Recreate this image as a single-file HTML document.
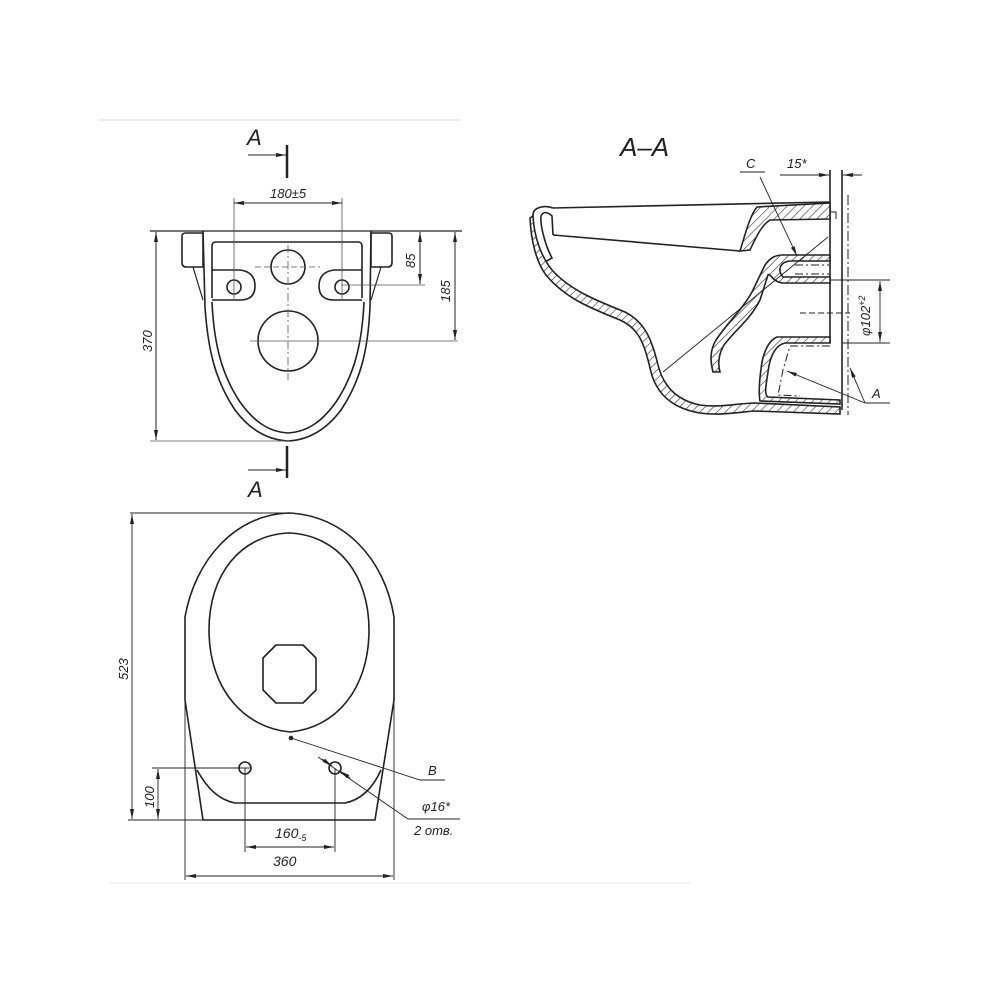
<!DOCTYPE html>
<html><head><meta charset="utf-8"><style>
html,body{margin:0;padding:0;background:#fff}
svg{display:block}
text{font-family:"Liberation Sans",sans-serif;font-style:italic;fill:#222}
</style></head><body>
<svg width="1000" height="1000" viewBox="0 0 1000 1000" xmlns="http://www.w3.org/2000/svg">
<defs>
<pattern id="h" width="6" height="6" patternUnits="userSpaceOnUse" patternTransform="rotate(45)">
<rect width="6" height="6" fill="#fff"/><line x1="0" y1="0" x2="0" y2="6" stroke="#333" stroke-width="1.2"/>
</pattern>
<marker id="ar" markerWidth="10" markerHeight="6" refX="10" refY="3" orient="auto-start-reverse" markerUnits="userSpaceOnUse">
<path d="M0,1 L10,3 L0,5 Z" fill="#222"/></marker>
</defs>
<g stroke="#222" fill="none" stroke-width="1.6">
<!-- faint border lines -->
<line x1="98" y1="120" x2="460" y2="120" stroke="#ddd" stroke-width="1"/>
<line x1="110" y1="883" x2="690" y2="883" stroke="#e4e4e4" stroke-width="1"/>

<!-- FRONT VIEW -->
<path d="M182,236 Q182,233 186,233 L203,233 L203,267 L186,267 Q182,267 182,262 Z"/>
<path d="M392,236 Q392,233 388,233 L371,233 L371,267 L388,267 Q392,267 392,262 Z"/>
<line x1="193" y1="267" x2="203" y2="300" stroke-width="1.2"/>
<line x1="381" y1="267" x2="371" y2="300" stroke-width="1.2"/>
<line x1="150" y1="231" x2="462" y2="231" stroke-width="1.2"/>
<path d="M203,231 L205,307 C208,350 215,380 235,410 C250,430 268,440 288,441 C308,440 326,430 341,410 C361,380 368,350 370,307 L371,231"/>
<path d="M212,302 C214,345 222,375 240,402 C255,423 270,432 288,433 C306,432 321,423 336,402 C354,375 362,345 364,302"/>
<path d="M212,298 L212,246 Q212,242 216,242 L358,242 Q362,242 362,246 L362,298"/>
<path d="M212,270 L240,270 Q255,272 255,286 Q255,300 240,300 L212,300"/>
<path d="M362,270 L334,270 Q319,272 319,286 Q319,300 334,300 L362,300"/>
<circle cx="234" cy="287" r="7"/><circle cx="342" cy="287" r="7"/>
<circle cx="288" cy="267" r="17"/><circle cx="288" cy="341" r="30"/>
<g stroke-width="0.8" stroke="#555">
<line x1="288" y1="245" x2="288" y2="380" stroke-dasharray="8,3,2,3"/>
<line x1="255" y1="267" x2="320" y2="267" stroke-dasharray="6,3"/>
<line x1="250" y1="341" x2="458" y2="341"/>
<line x1="234" y1="198" x2="234" y2="300"/><line x1="342" y1="198" x2="342" y2="300"/>
<line x1="342" y1="285" x2="425" y2="285"/>
<line x1="150" y1="441" x2="290" y2="441"/>
</g>
<g stroke-width="1">
<line x1="234" y1="203" x2="342" y2="203" marker-start="url(#ar)" marker-end="url(#ar)"/>
<line x1="156" y1="232" x2="156" y2="440" marker-start="url(#ar)" marker-end="url(#ar)"/>
<line x1="420" y1="232" x2="420" y2="284" marker-start="url(#ar)" marker-end="url(#ar)"/>
<line x1="455" y1="232" x2="455" y2="340" marker-start="url(#ar)" marker-end="url(#ar)"/>
</g>
<line x1="287" y1="145" x2="287" y2="178" stroke-width="2.5"/>
<line x1="287" y1="446" x2="287" y2="478" stroke-width="2.5"/>
<line x1="248" y1="155" x2="286" y2="155" stroke-width="1" marker-end="url(#ar)"/>
<line x1="248" y1="470" x2="286" y2="470" stroke-width="1" marker-end="url(#ar)"/>

<!-- TOP VIEW -->
<path d="M203,820 L185,700 L185,617 C195,560 235,515 288,513 C345,515 385,560 394,617 L394,700 L375,820 Z"/>
<path d="M289,533 C240,535 209,575 209,630 C209,690 245,728 290,732 C335,728 369,690 369,630 C369,575 338,535 289,533 Z"/>
<path d="M276,645 L303,645 L316,658 L316,690 L303,703 L276,703 L263,690 L263,658 Z" stroke-linejoin="round"/>
<path d="M197,770 C208,790 220,800 235,803 L345,803 C360,800 372,790 381,770"/>
<circle cx="245" cy="768" r="6"/><circle cx="335" cy="768" r="6"/>
<circle cx="291" cy="738" r="1.5" fill="#222"/>
<g stroke-width="0.9">
<line x1="130" y1="513" x2="290" y2="513"/>
<line x1="128" y1="820" x2="205" y2="820"/>
<line x1="152" y1="768" x2="250" y2="768"/>
<line x1="245" y1="768" x2="245" y2="852"/><line x1="335" y1="768" x2="335" y2="852"/>
<line x1="185" y1="700" x2="185" y2="880"/><line x1="394" y1="700" x2="394" y2="880"/>
<line x1="132" y1="514" x2="132" y2="819" marker-start="url(#ar)" marker-end="url(#ar)"/>
<line x1="158" y1="769" x2="158" y2="819" marker-start="url(#ar)" marker-end="url(#ar)"/>
<line x1="246" y1="847" x2="334" y2="847" marker-start="url(#ar)" marker-end="url(#ar)"/>
<line x1="186" y1="876" x2="393" y2="876" marker-start="url(#ar)" marker-end="url(#ar)"/>
<polyline points="291,738 420,780 445,780"/>
<line x1="318" y1="757" x2="408" y2="819"/>
<line x1="408" y1="819" x2="460" y2="819"/>
<line x1="322" y1="759" x2="332" y2="766" marker-end="url(#ar)"/>
<line x1="350" y1="778" x2="340" y2="771" marker-end="url(#ar)"/>
</g>

<!-- SECTION A-A -->
<!-- wall lines -->
<line x1="830" y1="170" x2="830" y2="343"/>
<line x1="842" y1="170" x2="842" y2="410"/>
<line x1="848" y1="195" x2="848" y2="415" stroke-width="1" stroke-dasharray="10,3,2,3"/>
<line x1="780" y1="175" x2="829" y2="175" stroke-width="1" marker-end="url(#ar)"/>
<line x1="862" y1="175" x2="843" y2="175" stroke-width="1" marker-end="url(#ar)"/>
<!-- rim top -->
<line x1="553" y1="208" x2="830" y2="202"/>
<!-- rim lip -->
<path d="M553,208 C545,205 534,207 533,214 C532,225 538,250 545,262 L552,258 C545,245 540,225 541,216 C543,211 548,212 552,216 L553,235" />
<path d="M533,216 C534,235 540,255 552,270 C570,290 595,300 625,312 C645,322 652,340 658,365 C663,385 675,400 700,405 C720,408 740,403 755,403 L840,407 L840,414 L755,411 C740,412 720,416 700,413 C670,408 655,392 650,368 C644,342 638,328 620,320 C590,308 565,298 546,275 C536,262 531,240 530,218 Z" fill="url(#h)"/>
<line x1="553" y1="235" x2="740" y2="251"/>
<!-- upper hatched block -->
<path d="M757,207 L830,203 L830,219 L770,220 C762,225 757,235 750,250 L740,251 C745,235 750,215 757,207 Z" fill="url(#h)"/>
<path d="M830,212 L836,212 L836,219" stroke-width="1"/>
<!-- middle tube -->
<path d="M783,255 L830,255 L830,261 L790,261 C780,262 777,270 783,277 L830,277 L830,283 L783,283 C772,282 770,272 768,275 L760,300 C750,320 735,330 724,345 C718,355 718,365 720,372 L713,372 C710,360 710,350 716,340 C728,322 742,310 752,292 L765,265 C770,258 775,255 783,255 Z" fill="url(#h)"/>
<path d="M795,265 L830,265 M795,274 L830,274" stroke-width="1" stroke-dasharray="8,3,2,3"/>
<!-- bottom outlet -->
<path d="M777,337 L830,337 L830,343 L785,343 C776,345 770,355 768,372 C766,385 764,395 768,397 L840,400 L840,404 L760,401 C758,390 760,375 762,362 C765,348 770,340 777,337 Z" fill="url(#h)"/>
<path d="M830,346 L790,346 L783,370 L778,395 L800,396" stroke-width="1" stroke-dasharray="8,3,2,3"/>
<!-- leaders -->
<g stroke-width="0.9">
<line x1="663" y1="372" x2="828" y2="237"/>
<line x1="740" y1="172" x2="765" y2="172"/>
<line x1="760" y1="177" x2="797" y2="256" marker-end="url(#ar)"/>
<line x1="865" y1="403" x2="890" y2="403"/>
<line x1="865" y1="403" x2="787" y2="371" marker-end="url(#ar)"/>
<line x1="865" y1="403" x2="850" y2="368" marker-end="url(#ar)"/>
<line x1="830" y1="280" x2="890" y2="280"/>
<line x1="842" y1="343" x2="890" y2="343"/>
<line x1="880" y1="281" x2="880" y2="342" marker-start="url(#ar)" marker-end="url(#ar)"/>
<line x1="800" y1="313" x2="850" y2="313" stroke-dasharray="6,3"/>
</g>
</g>
<!-- labels -->
<text x="247" y="145" font-size="22" font-style="normal">A</text>
<text x="248" y="497" font-size="22" font-style="normal">A</text>
<text x="270" y="198" font-size="13">180±5</text>
<text transform="translate(415,268) rotate(-90)" font-size="13">85</text>
<text transform="translate(450,302) rotate(-90)" font-size="13">185</text>
<text transform="translate(152,352) rotate(-90)" font-size="13">370</text>
<text transform="translate(128,680) rotate(-90)" font-size="13">523</text>
<text transform="translate(154,808) rotate(-90)" font-size="13">100</text>
<text x="275" y="838" font-size="14">160<tspan font-size="9" dy="3">-5</tspan></text>
<text x="273" y="866" font-size="14">360</text>
<text x="428" y="775" font-size="13">B</text>
<text x="422" y="811" font-size="13">φ16*</text>
<text x="414" y="835" font-size="13">2 отв.</text>
<text x="620" y="156" font-size="26" font-style="normal">A–A</text>
<text x="746" y="168" font-size="13">C</text>
<text x="787" y="168" font-size="13">15*</text>
<text x="872" y="398" font-size="13">A</text>
<text transform="translate(870,336) rotate(-90)" font-size="13">φ102<tspan font-size="9" dy="-5">+2</tspan></text>
</svg>
</body></html>
